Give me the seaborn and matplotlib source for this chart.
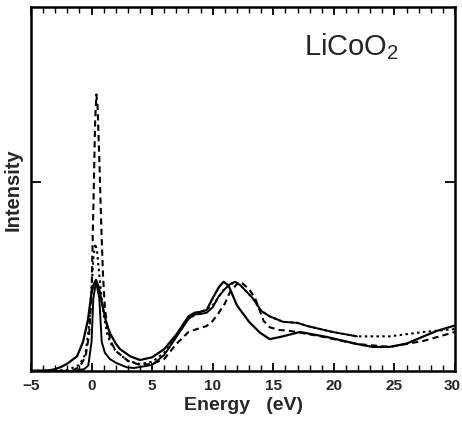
import numpy as np
import pandas as pd
import matplotlib
matplotlib.use("Agg")
import matplotlib.pyplot as plt
import matplotlib.transforms as mtransforms
import seaborn as sns
from matplotlib.ticker import MultipleLocator, FixedLocator

# ---- data (energy in eV, intensity in arbitrary units) ----
a_energy = [-5, -3.5, -3, -2.5, -2, -1.2, -0.7, -0.3, 0, 0.2, 0.37, 0.6, 0.9, 1.2, 1.5, 2, 2.35,
            3.2, 4, 5, 6, 7, 8, 8.5, 9, 9.5, 10, 10.5, 10.9, 11.3, 12, 13, 13.9, 14.7, 15.6, 17.2,
            19.4, 21.9, 23.2, 24.6, 26, 27.4, 28.5, 30]
a_int = [0, 0.003, 0.01, 0.022, 0.04, 0.08, 0.16, 0.28, 0.43, 0.48, 0.50, 0.46, 0.36, 0.27, 0.21,
         0.15, 0.12, 0.08, 0.06, 0.075, 0.12, 0.2, 0.30, 0.32, 0.325, 0.335, 0.40, 0.46, 0.49, 0.47,
         0.36, 0.27, 0.21, 0.175, 0.187, 0.214, 0.187, 0.148, 0.132, 0.132, 0.15, 0.19, 0.22, 0.25]

b_energy = [-5, -1.5, -0.6, -0.27, 0, 0.15, 0.37, 0.64, 0.84, 1.1, 1.5, 2, 2.9, 3.5, 5, 6, 7, 8,
            8.5, 9, 9.5, 10, 10.5, 11, 11.5, 11.85, 12.3, 13.3, 14, 14.7, 15.8, 17, 17.8, 19.9,
            21.9]
b_int = [0, 0, 0.01, 0.03, 0.16, 0.40, 0.49, 0.40, 0.16, 0.10, 0.066, 0.045, 0.02, 0.016, 0.033,
         0.088, 0.187, 0.286, 0.31, 0.313, 0.32, 0.35, 0.41, 0.45, 0.48, 0.49, 0.47, 0.40, 0.33,
         0.30, 0.27, 0.264, 0.247, 0.214, 0.19]

c_energy = [-5, -2, -1.5, -1, -0.5, -0.2, 0, 0.15, 0.3, 0.4, 0.5, 0.65, 0.8, 0.95, 1.1, 1.3, 1.6, 2,
            3, 4, 5, 6, 7, 8, 8.7, 9.5, 10, 10.5, 11, 11.4, 12, 12.3, 13, 13.5, 14.2, 14.7, 15.5,
            16.4, 18.9, 21.9, 24.6, 27.4, 30]
c_int = [0, 0, 0.005, 0.022, 0.077, 0.2, 0.42, 0.9, 1.38, 1.52, 1.45, 1.15, 0.8, 0.52, 0.35, 0.24,
         0.16, 0.11, 0.055, 0.033, 0.038, 0.066, 0.148, 0.214, 0.23, 0.247, 0.275, 0.32, 0.37, 0.43,
         0.478, 0.49, 0.45, 0.40, 0.275, 0.24, 0.225, 0.22, 0.19, 0.148, 0.132, 0.165, 0.214]

d_energy = [-5, -2, -1, -0.5, -0.2, 0, 0.15, 0.3, 0.45, 0.65, 0.8, 1.0, 1.3, 1.6, 2, 3, 4, 5, 6, 7,
            8, 9, 10, 11, 11.85, 12.3, 13.3, 14, 14.7, 15.8, 17, 17.8, 19.9, 21.9, 24.6, 27.4, 30]
d_int = [0, 0.005, 0.033, 0.093, 0.25, 0.45, 0.62, 0.70, 0.66, 0.52, 0.42, 0.31, 0.2, 0.15, 0.11,
         0.055, 0.038, 0.05, 0.1, 0.19, 0.29, 0.32, 0.36, 0.456, 0.49, 0.47, 0.40, 0.33, 0.30,
         0.27, 0.264, 0.247, 0.214, 0.19, 0.19, 0.214, 0.23]

x_ticks = [-5, 0, 5, 10, 15, 20, 25, 30]
y_ticks = [1.04]
x_label = "Energy   (eV)"
y_label = "Intensity"
title_text = r"LiCoO$_\mathregular{2}$"

# ---- plot ----
sns.set_style("ticks")
plt.rcParams["font.family"] = ["Liberation Sans", "DejaVu Sans"]
plt.rcParams["mathtext.fontset"] = "custom"
plt.rcParams["mathtext.rm"] = "Liberation Sans"
plt.rcParams["xtick.minor.size"] = 4
plt.rcParams["xtick.minor.width"] = 1.0
plt.rcParams["xtick.major.size"] = 6
plt.rcParams["xtick.major.width"] = 1.3
plt.rcParams["ytick.major.size"] = 7
plt.rcParams["ytick.major.width"] = 1.3
plt.rcParams["xtick.direction"] = "in"
plt.rcParams["ytick.direction"] = "in"

fig = plt.figure(figsize=(4.62, 4.27), dpi=100)
ax = fig.add_axes([0.067, 0.129, 0.918, 0.852])

series = [
    (a_energy, a_int, "-", 1.6),
    (b_energy, b_int, "-", 1.4),
    (d_energy, d_int, (0, (1.2, 1.6)), 1.5),
    (c_energy, c_int, (0, (3, 2)), 1.5),
]
for xs, ys, ls, lw in series:
    df = pd.DataFrame({"E": xs, "I": ys})
    sns.lineplot(data=df, x="E", y="I", ax=ax, color="black", linestyle=ls,
                 linewidth=lw, estimator=None, sort=False)

ax.set_xlim(-5, 30)
ax.set_ylim(0, 2)
ax.xaxis.set_major_locator(FixedLocator(x_ticks))
ax.xaxis.set_minor_locator(MultipleLocator(1))
ax.yaxis.set_major_locator(FixedLocator(y_ticks))
ax.set_yticklabels([])
ax.tick_params(axis="both", which="both", direction="in", top=True, right=True,
               bottom=True, left=True, color="black")
ax.tick_params(axis="x", which="major", labelsize=11, pad=5)
labels = ax.get_xticklabels()
for lab in labels:
    lab.set_fontweight("bold")
# keep the last tick label inside the canvas
shift = mtransforms.ScaledTranslation(-3 / 100, 0, fig.dpi_scale_trans)
labels[-1].set_transform(labels[-1].get_transform() + shift)
for s in ax.spines.values():
    s.set_linewidth(1.8)
    s.set_color("black")

ax.set_xlabel(x_label, fontsize=14, labelpad=3, fontweight="bold")
ax.set_ylabel(y_label, fontsize=14.5, fontweight="bold")
ax.yaxis.set_label_coords(-0.019, 0.5)
ax.text(0.757, 0.893, title_text, transform=ax.transAxes, fontsize=21, ha="center", va="center")

fig.savefig("out.png", dpi=100)
